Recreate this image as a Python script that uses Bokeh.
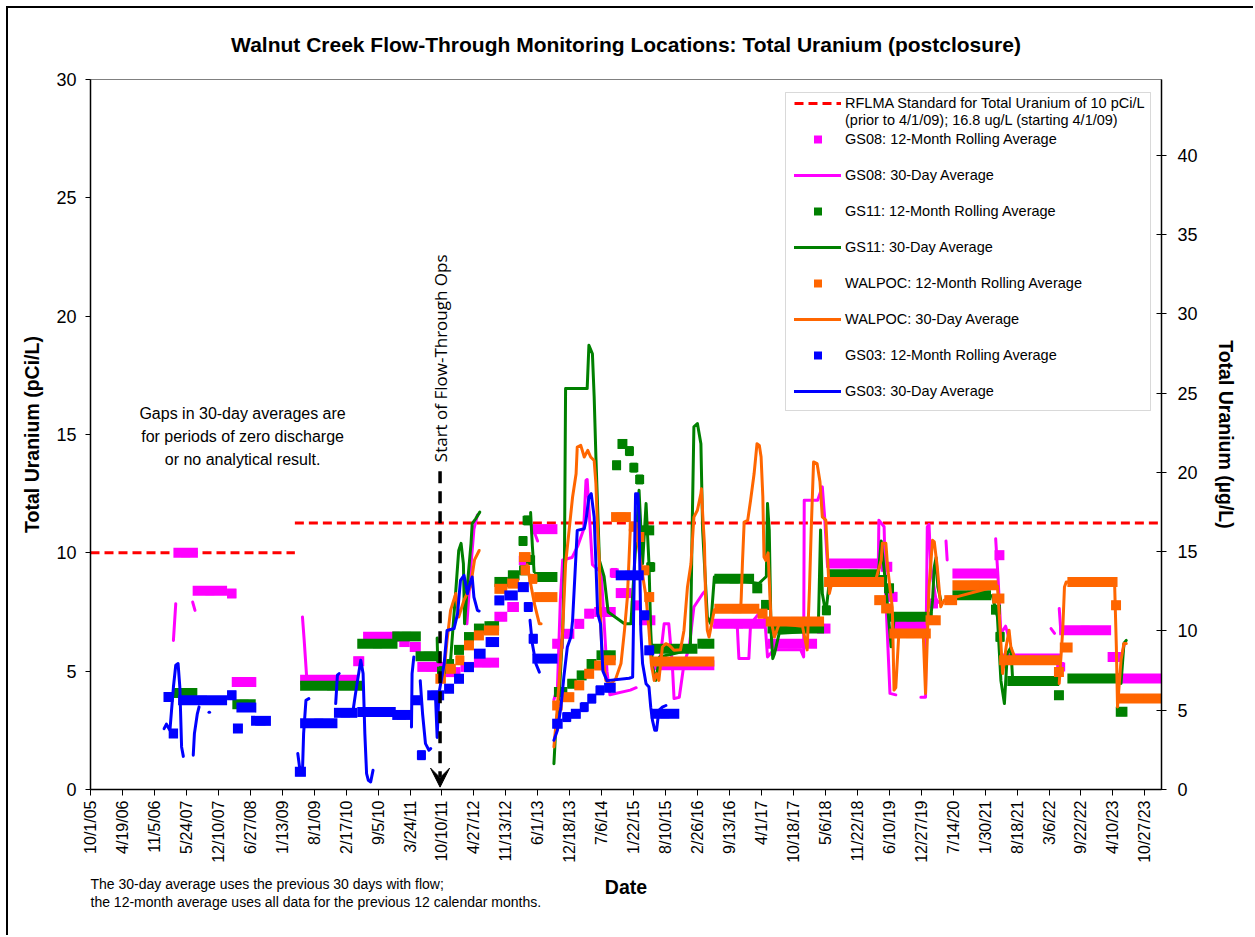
import math
from datetime import datetime
import pandas as pd
from bokeh.plotting import figure
from bokeh.models import (Range1d, LinearAxis, FixedTicker, Legend, LegendItem,
                          Arrow, VeeHead, ColumnDataSource, Title, BoxAnnotation)
from bokeh.core.properties import value
from bokeh.embed import file_html
from bokeh.resources import INLINE

# ---------------------------------------------------------------- data
TITLE = "Walnut Creek Flow-Through Monitoring Locations: Total Uranium (postclosure)"
X_TICK_LABELS = ["10/1/05", "4/19/06", "11/5/06", "5/24/07", "12/10/07", "6/27/08",
                 "1/13/09", "8/1/09", "2/17/10", "9/5/10", "3/24/11", "10/10/11",
                 "4/27/12", "11/13/12", "6/1/13", "12/18/13", "7/6/14", "1/22/15",
                 "8/10/15", "2/26/16", "9/13/16", "4/1/17", "10/18/17", "5/6/18",
                 "11/22/18", "6/10/19", "12/27/19", "7/14/20", "1/30/21", "8/18/21",
                 "3/6/22", "9/22/22", "4/10/23", "10/27/23"]
X_START = "2005-10-01"
X_END = "2024-02-08"
Y_TICKS_PCI = [0, 5, 10, 15, 20, 25, 30]
Y_TICKS_UG = [0, 5, 10, 15, 20, 25, 30, 35, 40]
PCI_PER_UG = 0.67
STD_OLD_PCI = 10.0           # prior to 4/1/09
STD_NEW_UG = 16.8            # starting 4/1/09
STD_CHANGE_YR = 2009.25
FLOW_THROUGH_START_YR = 2011.74

# 12-month rolling averages: (start decimal year, end decimal year, pCi/L)
GS08_12MO = [
    (2007.17, 2007.59, 10.0), (2007.50, 2008.09, 8.40), (2008.09, 2008.25, 8.28),
    (2008.17, 2008.59, 4.54), (2009.34, 2010.35, 4.64), (2010.25, 2010.44, 5.42),
    (2010.42, 2011.04, 6.45), (2011.04, 2011.22, 6.23), (2011.22, 2011.41, 6.02),
    (2011.35, 2011.81, 5.18), (2011.81, 2012.09, 4.96), (2012.09, 2012.32, 5.18),
    (2012.32, 2012.75, 5.36), (2012.67, 2012.89, 7.30), (2012.89, 2013.09, 7.71),
    (2013.09, 2013.24, 9.68), (2013.29, 2013.75, 11.00), (2013.66, 2013.86, 6.16),
    (2013.86, 2014.04, 6.58), (2014.04, 2014.21, 7.00), (2014.21, 2014.38, 7.43),
    (2014.38, 2014.75, 7.50), (2014.67, 2014.78, 9.15), (2014.75, 2015.02, 8.30),
    (2015.02, 2015.15, 7.78), (2015.15, 2015.43, 7.15), (2015.35, 2016.44, 5.25),
    (2016.42, 2017.29, 7.00), (2017.35, 2018.20, 6.16), (2018.20, 2018.43, 6.80),
    (2018.40, 2019.29, 9.55), (2019.29, 2019.49, 9.41), (2019.41, 2019.58, 8.14),
    (2019.52, 2020.12, 6.94), (2020.12, 2020.27, 7.86), (2020.52, 2021.29, 9.13),
    (2021.24, 2021.41, 9.90), (2021.35, 2022.38, 5.53), (2022.32, 2022.43, 5.18),
    (2022.35, 2023.24, 6.73), (2023.18, 2023.41, 5.60), (2023.35, 2024.10, 4.69),
]
GS11_12MO = [
    (2007.18, 2007.58, 4.08), (2008.18, 2008.58, 3.60), (2009.34, 2010.42, 4.38),
    (2010.32, 2011.01, 6.16), (2010.92, 2011.41, 6.47), (2011.32, 2011.75, 5.63),
    (2011.72, 2011.81, 5.00), (2011.81, 2011.98, 5.30), (2011.98, 2012.15, 5.90),
    (2012.15, 2012.32, 6.44), (2012.32, 2012.50, 6.80), (2012.50, 2012.75, 6.90),
    (2012.67, 2012.90, 8.77), (2012.90, 2013.10, 9.05), (2013.10, 2013.24, 9.26),
    (2013.09, 2013.23, 10.50), (2013.17, 2013.29, 11.37), (2013.23, 2013.35, 9.70),
    (2013.35, 2013.75, 8.98), (2013.69, 2013.92, 4.12), (2013.92, 2014.08, 4.47),
    (2014.08, 2014.25, 4.82), (2014.25, 2014.42, 5.30), (2014.42, 2014.75, 5.67),
    (2014.69, 2014.84, 13.70), (2014.78, 2014.95, 14.60), (2014.92, 2015.05, 14.30),
    (2015.00, 2015.12, 13.60), (2015.10, 2015.22, 13.10), (2015.18, 2015.41, 10.95),
    (2015.29, 2015.41, 9.40), (2015.35, 2016.15, 5.95), (2016.15, 2016.44, 6.16),
    (2016.44, 2017.12, 8.90), (2017.09, 2017.26, 8.50), (2017.24, 2017.41, 7.80),
    (2017.35, 2018.32, 6.80), (2018.29, 2018.43, 7.57), (2018.40, 2019.24, 9.10),
    (2019.20, 2019.40, 8.85), (2019.35, 2019.52, 8.50), (2019.44, 2020.18, 7.30),
    (2020.52, 2021.18, 8.21), (2021.18, 2021.35, 7.60), (2021.26, 2021.41, 6.45),
    (2021.46, 2022.35, 4.58), (2022.26, 2022.43, 3.98), (2022.49, 2023.41, 4.69),
    (2023.32, 2023.52, 3.28),
]
WALPOC_12MO = [
    (2011.66, 2011.84, 4.68), (2011.84, 2012.01, 5.10), (2012.01, 2012.15, 5.46),
    (2012.15, 2012.32, 6.09), (2012.32, 2012.49, 6.51), (2012.49, 2012.75, 6.72),
    (2012.67, 2012.89, 8.48), (2012.89, 2013.09, 8.70), (2013.09, 2013.29, 9.82),
    (2013.12, 2013.28, 9.26), (2013.26, 2013.40, 8.90), (2013.35, 2013.75, 8.13),
    (2013.66, 2013.84, 3.55), (2013.84, 2014.04, 3.90), (2014.04, 2014.21, 4.40),
    (2014.21, 2014.38, 4.89), (2014.38, 2014.55, 5.24), (2014.55, 2014.75, 5.46),
    (2014.67, 2015.01, 11.51), (2014.98, 2015.12, 11.10), (2015.06, 2015.24, 10.67),
    (2015.18, 2015.32, 9.26), (2015.24, 2015.41, 8.13), (2015.35, 2016.44, 5.41),
    (2016.44, 2017.21, 7.64), (2017.18, 2017.35, 7.43), (2017.32, 2018.32, 7.10),
    (2018.32, 2019.35, 8.77), (2019.18, 2019.38, 8.00), (2019.30, 2019.47, 7.65),
    (2019.44, 2020.15, 6.59), (2020.06, 2020.32, 7.15), (2020.38, 2020.60, 8.00),
    (2020.52, 2021.29, 8.63), (2021.20, 2021.41, 8.07), (2021.32, 2022.38, 5.46),
    (2022.26, 2022.43, 4.97), (2022.36, 2022.58, 6.00), (2022.49, 2023.35, 8.77),
    (2023.24, 2023.41, 7.79), (2023.35, 2024.10, 3.85),
]
GS03_12MO = [
    (2007.00, 2007.17, 3.91), (2007.09, 2007.25, 2.37), (2007.25, 2008.09, 3.77),
    (2008.09, 2008.25, 3.98), (2008.19, 2008.36, 2.58), (2008.25, 2008.59, 3.46),
    (2008.50, 2008.84, 2.90), (2009.25, 2009.44, 0.75), (2009.34, 2009.98, 2.80),
    (2009.92, 2010.32, 3.24), (2010.32, 2010.98, 3.27), (2010.92, 2011.24, 3.15),
    (2011.24, 2011.41, 3.77), (2011.35, 2011.49, 1.45), (2011.52, 2011.81, 3.98),
    (2011.81, 2011.98, 4.26), (2011.98, 2012.15, 4.68), (2012.15, 2012.32, 5.17),
    (2012.32, 2012.52, 5.74), (2012.52, 2012.75, 6.23), (2012.67, 2012.84, 7.99),
    (2012.84, 2013.07, 8.20), (2013.07, 2013.26, 8.55), (2013.18, 2013.32, 7.71),
    (2013.26, 2013.41, 6.37), (2013.32, 2013.75, 5.53), (2013.66, 2013.84, 2.78),
    (2013.84, 2013.98, 3.06), (2013.98, 2014.15, 3.20), (2014.15, 2014.27, 3.48),
    (2014.27, 2014.41, 3.84), (2014.41, 2014.55, 4.19), (2014.55, 2014.75, 4.30),
    (2014.75, 2015.23, 9.05), (2015.18, 2015.32, 7.36), (2015.24, 2015.41, 5.88),
    (2015.35, 2015.84, 3.20),
]

# 30-day averages: list of unbroken pieces of (decimal year, pCi/L)
GS08_30D = [
    [(2007.17, 6.30), (2007.21, 7.85)],
    [(2007.50, 7.92), (2007.54, 7.57)],
    [(2009.38, 7.29), (2009.41, 6.30), (2009.45, 4.83)],
    [(2012.20, 7.00), (2012.27, 9.50), (2012.32, 11.00), (2012.38, 11.60)],
    [(2013.32, 11.10), (2013.41, 10.50)],
    [(2013.69, 3.80), (2013.75, 4.30), (2013.80, 8.00), (2013.84, 9.70), (2014.00, 9.80),
     (2014.10, 10.30), (2014.20, 11.00), (2014.24, 13.06), (2014.26, 13.10), (2014.30, 11.50),
     (2014.35, 9.50), (2014.44, 9.30), (2014.50, 9.20), (2014.60, 5.00), (2014.65, 4.00),
     (2015.00, 4.20), (2015.10, 4.30)],
    [(2015.49, 5.03), (2015.58, 7.00), (2015.66, 7.00), (2015.72, 5.30), (2015.75, 3.84),
     (2015.84, 3.90), (2015.92, 5.30), (2016.01, 6.00), (2016.09, 7.71), (2016.24, 8.27),
     (2016.27, 8.35)],
    [(2016.43, 6.90), (2016.83, 7.00), (2016.86, 5.53), (2017.03, 5.53), (2017.06, 7.00),
     (2017.29, 7.70), (2017.35, 5.60), (2017.46, 5.90), (2017.92, 5.90), (2017.97, 5.60),
     (2017.98, 12.22), (2018.21, 12.22), (2018.29, 12.79), (2018.33, 11.50), (2018.38, 9.41),
     (2018.45, 9.50), (2019.25, 9.40), (2019.26, 11.38), (2019.35, 11.10), (2019.38, 8.00),
     (2019.45, 4.06), (2019.55, 4.00)],
    [(2019.98, 3.90), (2020.06, 3.90), (2020.09, 11.10), (2020.12, 11.20), (2020.15, 9.41),
     (2020.24, 8.00), (2020.32, 7.86)],
    [(2020.41, 10.50), (2020.43, 9.70)],
    [(2021.26, 10.60), (2021.30, 9.00), (2021.35, 6.60), (2021.43, 6.90), (2021.50, 6.30)],
    [(2022.21, 6.80), (2022.27, 6.60)],
    [(2022.35, 7.65), (2022.38, 6.60)],
    [(2023.42, 5.60), (2023.47, 6.20)],
]
GS11_30D = [
    [(2011.69, 6.40), (2011.70, 5.40)],
    [(2011.92, 5.46), (2012.01, 8.41), (2012.06, 10.10), (2012.10, 10.40), (2012.14, 9.54),
     (2012.16, 7.00), (2012.21, 8.70), (2012.27, 10.39), (2012.29, 11.23), (2012.35, 11.44),
     (2012.42, 11.72)],
    [(2013.29, 11.70), (2013.32, 10.30), (2013.35, 9.20)],
    [(2013.69, 1.09), (2013.72, 2.50), (2013.78, 3.90), (2013.84, 6.72), (2013.87, 9.54),
     (2013.89, 16.94), (2014.26, 16.94), (2014.29, 18.77), (2014.35, 18.41), (2014.38, 16.60),
     (2014.41, 14.05), (2014.47, 9.68), (2014.55, 9.00), (2014.62, 7.50), (2014.90, 7.00),
     (2015.01, 7.00), (2015.15, 12.64), (2015.21, 9.54), (2015.27, 12.08), (2015.32, 9.54),
     (2015.35, 6.72), (2015.38, 5.18), (2015.44, 4.61), (2015.50, 5.60), (2016.03, 5.90),
     (2016.06, 10.95), (2016.09, 15.32), (2016.15, 15.46), (2016.21, 14.61), (2016.24, 10.95),
     (2016.32, 7.29), (2016.38, 7.00), (2016.44, 8.98), (2017.20, 8.70), (2017.33, 9.00),
     (2017.35, 12.08), (2017.38, 10.95), (2017.41, 6.72), (2017.44, 5.53), (2017.47, 5.74),
     (2017.55, 6.60), (2018.22, 6.70), (2018.26, 10.96), (2018.29, 8.28), (2018.35, 7.44),
     (2018.42, 9.00), (2019.25, 9.10), (2019.30, 10.50), (2019.38, 8.56), (2019.47, 6.03),
     (2019.52, 7.20), (2020.15, 7.30), (2020.18, 8.00), (2020.21, 9.41), (2020.24, 9.80),
     (2020.27, 8.56), (2020.32, 8.00)],
    [(2021.20, 8.20), (2021.29, 7.30), (2021.35, 4.60), (2021.41, 3.63), (2021.46, 5.75),
     (2021.52, 6.00), (2021.55, 4.70)],
    [(2023.41, 4.48), (2023.46, 6.17), (2023.50, 6.30)],
]
WALPOC_30D = [
    [(2011.80, 4.80), (2011.86, 6.30), (2011.92, 7.57), (2012.01, 8.28), (2012.06, 7.29),
     (2012.15, 8.00), (2012.26, 8.56), (2012.33, 9.70), (2012.41, 10.10)],
    [(2013.23, 9.50), (2013.29, 8.70), (2013.36, 7.80), (2013.44, 7.00), (2013.47, 7.00)],
    [(2013.69, 1.80), (2013.74, 3.20), (2013.78, 4.61), (2013.84, 6.72), (2013.89, 9.54),
     (2013.95, 10.95), (2014.01, 12.36), (2014.07, 13.34), (2014.09, 14.47), (2014.15, 14.54),
     (2014.21, 14.05), (2014.27, 14.33), (2014.32, 14.05), (2014.38, 13.90), (2014.41, 12.92),
     (2014.44, 10.95), (2014.47, 9.54), (2014.49, 7.15), (2014.52, 5.46), (2014.55, 5.32),
     (2014.58, 4.61), (2014.67, 4.47), (2014.75, 4.68), (2014.84, 5.32), (2014.90, 6.72),
     (2014.95, 8.13), (2015.00, 11.00), (2015.10, 11.00), (2015.18, 9.54), (2015.27, 8.13),
     (2015.32, 6.72), (2015.36, 5.32), (2015.41, 4.61), (2015.45, 4.89), (2015.49, 4.61),
     (2015.55, 6.02), (2015.61, 6.16), (2015.67, 6.09), (2015.75, 5.88), (2015.86, 5.90),
     (2015.92, 6.72), (2015.98, 8.55), (2016.04, 9.54), (2016.09, 11.51), (2016.15, 11.80),
     (2016.21, 12.50), (2016.22, 12.71), (2016.24, 11.65), (2016.27, 10.39), (2016.29, 8.13),
     (2016.32, 6.72), (2016.35, 6.44), (2016.44, 7.60), (2016.89, 7.60), (2016.90, 8.13),
     (2016.92, 9.54), (2016.95, 11.30), (2017.01, 11.37), (2017.06, 12.22), (2017.12, 13.34),
     (2017.17, 14.61), (2017.21, 14.54), (2017.24, 14.05), (2017.27, 12.36), (2017.29, 9.82),
     (2017.32, 9.68), (2017.36, 10.00), (2017.41, 7.15), (2017.47, 6.44), (2017.55, 7.00),
     (2017.95, 6.90), (2018.03, 5.90), (2018.07, 8.50), (2018.10, 11.00), (2018.14, 13.84),
     (2018.20, 13.77), (2018.25, 13.00), (2018.29, 11.52), (2018.35, 11.38), (2018.41, 8.28),
     (2018.45, 8.70), (2019.20, 8.80), (2019.30, 9.69), (2019.32, 10.40), (2019.38, 10.40),
     (2019.41, 9.40), (2019.46, 8.30), (2019.49, 7.70), (2019.50, 6.60), (2019.52, 4.20),
     (2019.55, 4.30), (2019.60, 6.50), (2020.02, 6.60), (2020.06, 4.06), (2020.12, 8.56),
     (2020.18, 10.53), (2020.21, 10.46), (2020.26, 9.41), (2020.32, 7.72), (2020.38, 8.00),
     (2021.29, 8.60), (2021.32, 7.44), (2021.38, 4.90), (2021.44, 6.03), (2021.49, 6.73),
     (2021.52, 6.03), (2021.60, 5.50)],
    [(2022.35, 4.48), (2022.41, 6.73), (2022.44, 8.56), (2022.47, 8.77), (2023.30, 8.70),
     (2023.33, 6.00), (2023.35, 3.49), (2023.41, 5.46), (2023.46, 6.17), (2023.50, 6.17)],
]
GS03_30D = [
    [(2007.01, 2.57), (2007.05, 2.76), (2007.11, 2.50), (2007.17, 4.33), (2007.21, 5.25),
     (2007.25, 5.32), (2007.28, 4.33), (2007.31, 1.80), (2007.34, 1.40)],
    [(2007.51, 1.45), (2007.53, 2.36), (2007.58, 3.20), (2007.61, 3.49)],
    [(2007.78, 3.26), (2007.79, 3.26)],
    [(2009.30, 1.52), (2009.33, 0.95), (2009.38, 0.74), (2009.40, 2.36), (2009.44, 3.77),
     (2009.49, 3.84)],
    [(2009.95, 3.63), (2009.98, 4.83), (2010.01, 4.90)],
    [(2010.24, 3.20), (2010.29, 4.05), (2010.38, 5.46), (2010.42, 4.90), (2010.45, 2.36),
     (2010.48, 0.67), (2010.51, 0.39), (2010.55, 0.32), (2010.59, 0.81)],
    [(2011.25, 2.64), (2011.26, 4.90), (2011.29, 5.60)],
    [(2011.40, 4.60), (2011.44, 3.20), (2011.49, 1.94), (2011.55, 1.66), (2011.58, 1.73)],
    [(2011.64, 3.90), (2011.66, 4.05), (2011.69, 2.20), (2011.72, 4.05), (2011.81, 5.30),
     (2011.86, 6.72), (2011.98, 6.80), (2012.04, 7.43), (2012.09, 8.84), (2012.15, 9.05),
     (2012.21, 8.27), (2012.25, 8.70), (2012.29, 8.98), (2012.32, 8.13), (2012.38, 7.57),
     (2012.41, 7.54)],
    [(2013.28, 7.15), (2013.32, 6.16), (2013.38, 5.32), (2013.44, 4.96)],
    [(2013.69, 2.08), (2013.75, 2.50), (2013.81, 3.49), (2013.86, 4.75), (2013.92, 6.02),
     (2013.98, 6.44), (2014.01, 7.15), (2014.09, 10.95), (2014.21, 11.02), (2014.24, 11.37),
     (2014.29, 12.36), (2014.33, 12.50), (2014.38, 11.51), (2014.41, 9.54), (2014.44, 7.43),
     (2014.49, 7.00), (2014.53, 5.00), (2014.60, 4.60), (2014.98, 4.70), (2015.04, 4.75),
     (2015.09, 12.50), (2015.13, 12.50), (2015.15, 11.51), (2015.18, 6.72), (2015.21, 5.32),
     (2015.27, 4.47), (2015.32, 4.33), (2015.35, 3.48), (2015.38, 2.92), (2015.42, 2.50),
     (2015.45, 2.50), (2015.49, 3.34), (2015.55, 3.48), (2015.61, 3.55)],
]

SERIES = [
    ("GS08", "#FF00FF", GS08_12MO, GS08_30D),
    ("GS11", "#008000", GS11_12MO, GS11_30D),
    ("WALPOC", "#FF6600", WALPOC_12MO, WALPOC_30D),
    ("GS03", "#0000FF", GS03_12MO, GS03_30D),
]

# ---------------------------------------------------------------- helpers
EPOCH = datetime(1970, 1, 1)


def yr_ms(y):
    yi = int(math.floor(y))
    a = datetime(yi, 1, 1)
    b = datetime(yi + 1, 1, 1)
    return ((a - EPOCH) + (b - a) * (y - yi)).total_seconds() * 1000.0


def date_ms(s):
    return (pd.Timestamp(s) - pd.Timestamp("1970-01-01")) // pd.Timedelta("1ms")


FONT = "Liberation Sans"
tick_ms = [int((t - pd.Timestamp("1970-01-01")) // pd.Timedelta("1ms"))
           for t in pd.to_datetime(X_TICK_LABELS, format="%m/%d/%y")]
x0_ms = date_ms(X_START)
x1_ms = date_ms(X_END)

p = figure(width=1247, height=929, x_axis_type="datetime",
           x_range=Range1d(x0_ms, x1_ms), y_range=Range1d(0, 30),
           output_backend="svg", toolbar_location=None,
           min_border_left=82, min_border_right=94, min_border_top=71,
           min_border_bottom=148)
p.margin = (8, 0, 0, 8)
p.styles = {"box-shadow": "-2px -2px 0px 0px #000000"}
p.xgrid.visible = False
p.ygrid.visible = False
p.outline_line_color = "#808080"
p.outline_line_width = 1
p.background_fill_color = "white"
p.border_fill_color = "white"

p.title.text = TITLE
p.title.align = "center"
p.title.vertical_align = "top"
p.title.text_font = FONT
p.title.text_font_style = "bold"
p.title.text_font_size = "21px"
p.title.text_color = "black"
p.title.standoff = 44

# x axis
xa = p.xaxis[0]
xa.ticker = FixedTicker(ticks=tick_ms)
xa.major_label_overrides = {t: lab for t, lab in zip(tick_ms, X_TICK_LABELS)}
xa.major_label_orientation = math.pi / 2
xa.major_label_text_font = FONT
xa.major_label_text_font_size = "16px"
xa.major_label_text_color = "black"
xa.major_label_standoff = 5
xa.major_tick_in = 0
xa.major_tick_out = 6
xa.minor_tick_line_color = None
xa.axis_line_color = "black"
xa.axis_line_width = 1.5
xa.major_tick_line_color = "black"
xa.axis_label = "Date"
xa.axis_label_text_font = FONT
xa.axis_label_text_font_style = "bold"
xa.axis_label_text_font_size = "19.5px"
xa.axis_label_text_color = "black"
xa.axis_label_standoff = 10

# left axis
ya = p.yaxis[0]
ya.ticker = FixedTicker(ticks=Y_TICKS_PCI)
ya.major_label_text_font = FONT
ya.major_label_text_font_size = "18px"
ya.major_label_text_color = "black"
ya.major_label_standoff = 9
ya.major_tick_in = 0
ya.major_tick_out = 5
ya.minor_tick_line_color = None
ya.axis_line_color = "black"
ya.axis_line_width = 1.5
ya.axis_label = "Total Uranium (pCi/L)"
ya.axis_label_text_font = FONT
ya.axis_label_text_font_style = "bold"
ya.axis_label_text_font_size = "19.5px"
ya.axis_label_text_color = "black"
ya.axis_label_standoff = 10

# right axis (ug/L)
p.extra_y_ranges = {"ug": Range1d(0, 30 / PCI_PER_UG)}
ra = LinearAxis(y_range_name="ug", ticker=FixedTicker(ticks=Y_TICKS_UG))
ra.major_label_text_font = FONT
ra.major_label_text_font_size = "18px"
ra.major_label_text_color = "black"
ra.major_label_standoff = 11
ra.major_tick_in = 5
ra.major_tick_out = 5
ra.minor_tick_line_color = None
ra.axis_line_color = "black"
ra.axis_line_width = 1.5
ra.axis_label = "Total Uranium (\u00b5g/L)"
ra.axis_label_text_font = FONT
ra.axis_label_text_font_style = "bold"
ra.axis_label_text_font_size = "19.5px"
ra.axis_label_text_color = "black"
ra.axis_label_standoff = 14
p.add_layout(ra, "right")

# footnotes below the date axis (pulled up beside the "Date" label)
note1 = Title(text="The 30-day average uses the previous 30 days with flow;", align="left",
              vertical_align="top", text_font=FONT, text_font_size="14px",
              text_font_style="normal", text_color="black", standoff=0, offset=0)
note2 = Title(text="the 12-month average uses all data for the previous 12 calendar months.",
              align="left", vertical_align="top", text_font=FONT,
              text_font_size="14px", text_font_style="normal", text_color="black",
              standoff=0, offset=0)
try:
    note1.standoff = -50
    note2.standoff = -14
except Exception:
    pass
p.add_layout(note1, "below")
p.add_layout(note2, "below")

# standard lines
std_new_pci = STD_NEW_UG * PCI_PER_UG
std = p.multi_line(xs=[[x0_ms, yr_ms(STD_CHANGE_YR)], [yr_ms(STD_CHANGE_YR), x1_ms]],
                   ys=[[STD_OLD_PCI, STD_OLD_PCI], [std_new_pci, std_new_pci]],
                   line_color="#FF0000", line_width=3, line_dash="9 5")

items = [LegendItem(label="RFLMA Standard for Total Uranium of 10 pCi/L", renderers=[std])]

for name, color, runs, pieces in SERIES:
    x0s = [yr_ms(a) for a, b, v in runs]
    x1s = [yr_ms(b) for a, b, v in runs]
    ys = [v for a, b, v in runs]
    src = ColumnDataSource(dict(x0=x0s, x1=x1s, y=ys,
                                xm=[(a + b) / 2 for a, b in zip(x0s, x1s)]))
    p.segment(x0="x0", y0="y", x1="x1", y1="y", source=src,
              line_color=color, line_width=10, line_cap="butt")
    sq = p.scatter(x="xm", y="y", source=src, marker="square", size=9,
                   fill_color=color, line_color=color, line_width=0)
    ml = p.multi_line(xs=[[yr_ms(t) for t, v in seg] for seg in pieces],
                      ys=[[v for t, v in seg] for seg in pieces],
                      line_color=color, line_width=3,
                      line_join="round", line_cap="round")
    items.append(LegendItem(label=f"{name}: 12-Month Rolling Average", renderers=[sq]))
    items.append(LegendItem(label=f"{name}: 30-Day Average", renderers=[ml]))

# legend frame
p.add_layout(BoxAnnotation(left=695, right=1060, bottom=379, top=697,
                           left_units="screen", right_units="screen",
                           bottom_units="screen", top_units="screen",
                           fill_color="white", fill_alpha=1.0,
                           line_color="#808080", line_width=1))

legend = Legend(items=items, location=(704, 388), orientation="vertical",
                label_text_font=FONT, label_text_font_size="14.5px",
                label_text_color="black", label_height=20, glyph_height=20,
                glyph_width=47, label_standoff=4, spacing=16, padding=0,
                margin=0, border_line_color=None, background_fill_alpha=0.0)
p.add_layout(legend, "center")

# second line of the standard's legend entry
ghost = p.line(x=[x0_ms, x0_ms], y=[-5, -5], line_alpha=0)
legend2 = Legend(items=[LegendItem(label="(prior to 4/1/09); 16.8 ug/L (starting 4/1/09)",
                                   renderers=[ghost])],
                 location=(704, 659), label_text_font=FONT, label_text_font_size="14.5px",
                 label_text_color="black", label_height=20, glyph_height=20,
                 glyph_width=47, label_standoff=4, padding=0, margin=0,
                 border_line_color=None, background_fill_alpha=0.0)
p.add_layout(legend2, "center")

# start of flow-through operations
fx = yr_ms(FLOW_THROUGH_START_YR)
p.add_layout(Arrow(x_start=fx, y_start=13.45, x_end=fx, y_end=0.1,
                   line_color="black", line_width=3.5, line_dash="12 8",
                   end=VeeHead(size=19, fill_color="black", line_color="black",
                               line_width=1)))
p.text(x=[fx], y=[18.22], text=["Start of Flow-Through Ops"], angle=math.pi / 2,
       text_font=value("Open Sans"), text_font_size="17px", text_color="black",
       text_align="center", text_baseline="middle")

# gaps note
gx = yr_ms(2008.355)
p.text(x=[gx, gx, gx], y=[15.9, 14.92, 13.95],
       text=["Gaps in 30-day averages are", "for periods of zero discharge",
             "or no analytical result."],
       text_font=value(FONT), text_font_size="16px", text_color="black",
       text_align="center", text_baseline="middle")

open("out.html", "w").write(file_html(p, INLINE))
